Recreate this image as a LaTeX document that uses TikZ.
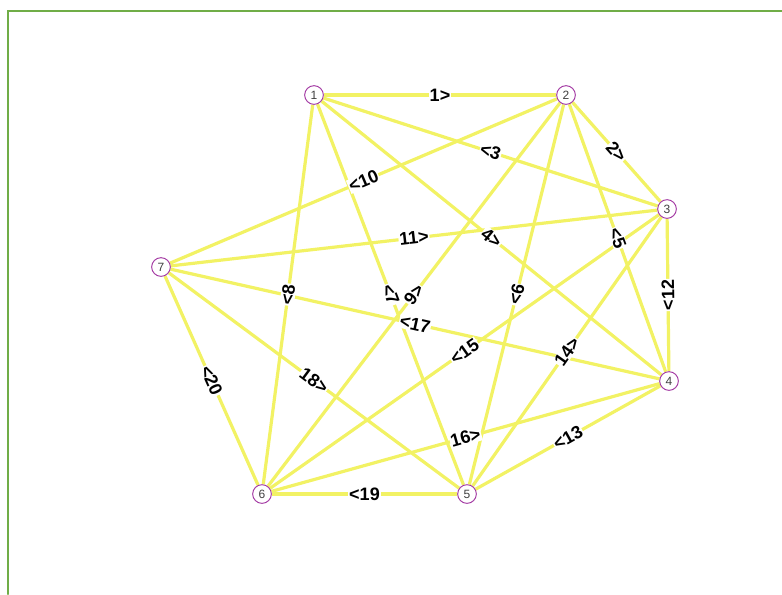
\documentclass[tikz,border=0pt]{standalone}
\usepackage{fontspec}
\setmainfont{Liberation Sans}
\usepackage{tikz}
\pgfdeclarelayer{background}
\pgfsetlayers{background,main}
\definecolor{linkyellow}{RGB}{242,242,100}
\definecolor{vertexring}{RGB}{160,50,160}
\definecolor{framegreen}{RGB}{112,173,71}
\tikzset{
  vertex/.style={circle, draw=vertexring, fill=white, line width=0.7pt,
                 minimum size=14pt, inner sep=0pt,
                 font=\fontsize{9}{9}\selectfont, text=black!75},
  link/.style={linkyellow, line width=2.4pt},
  elabel/.style={midway, sloped, allow upside down, fill=white, inner sep=0.6pt,
                 font=\fontsize{13.5}{13.5}\selectfont\bfseries},
  frameline/.style={framegreen, line width=1.6pt},
}

\begin{document}
\begin{tikzpicture}[x=0.75pt,y=-0.75pt,line cap=round]
  \useasboundingbox (0,0) rectangle (782,594);
  % ---- frame ----
  \draw[frameline] (782,11) -- (8,11) -- (8,594);
  % ---- vertices ----
  \node[vertex] (v1) at (314,95) {1};
  \node[vertex] (v2) at (566,95) {2};
  \node[vertex] (v3) at (667,209) {3};
  \node[vertex] (v4) at (669,381) {4};
  \node[vertex] (v5) at (467,494) {5};
  \node[vertex] (v6) at (262,494) {6};
  \node[vertex] (v7) at (161,267) {7};
  % ---- edges, label read along a -> b ----
  \foreach \a/\b/\t in {v1/v2/{1>},v2/v3/{2>},v1/v3/{<3},v1/v4/{4>},v2/v4/{<5},
                        v5/v2/{<6},v1/v5/{<7},v6/v1/{<8},v6/v2/{9>},v7/v2/{<10},
                        v7/v3/{11>},v4/v3/{<12},v5/v4/{<13},v5/v3/{14>},v6/v3/{<15},
                        v6/v4/{16>},v7/v4/{<17},v7/v5/{18>},v6/v5/{<19},v7/v6/{<20}}
  {
    \begin{pgfonlayer}{background}
      \draw[link] (\a) -- (\b);
    \end{pgfonlayer}
    \path (\a) -- node[elabel]{\t} (\b);
  }
\end{tikzpicture}
\end{document}
